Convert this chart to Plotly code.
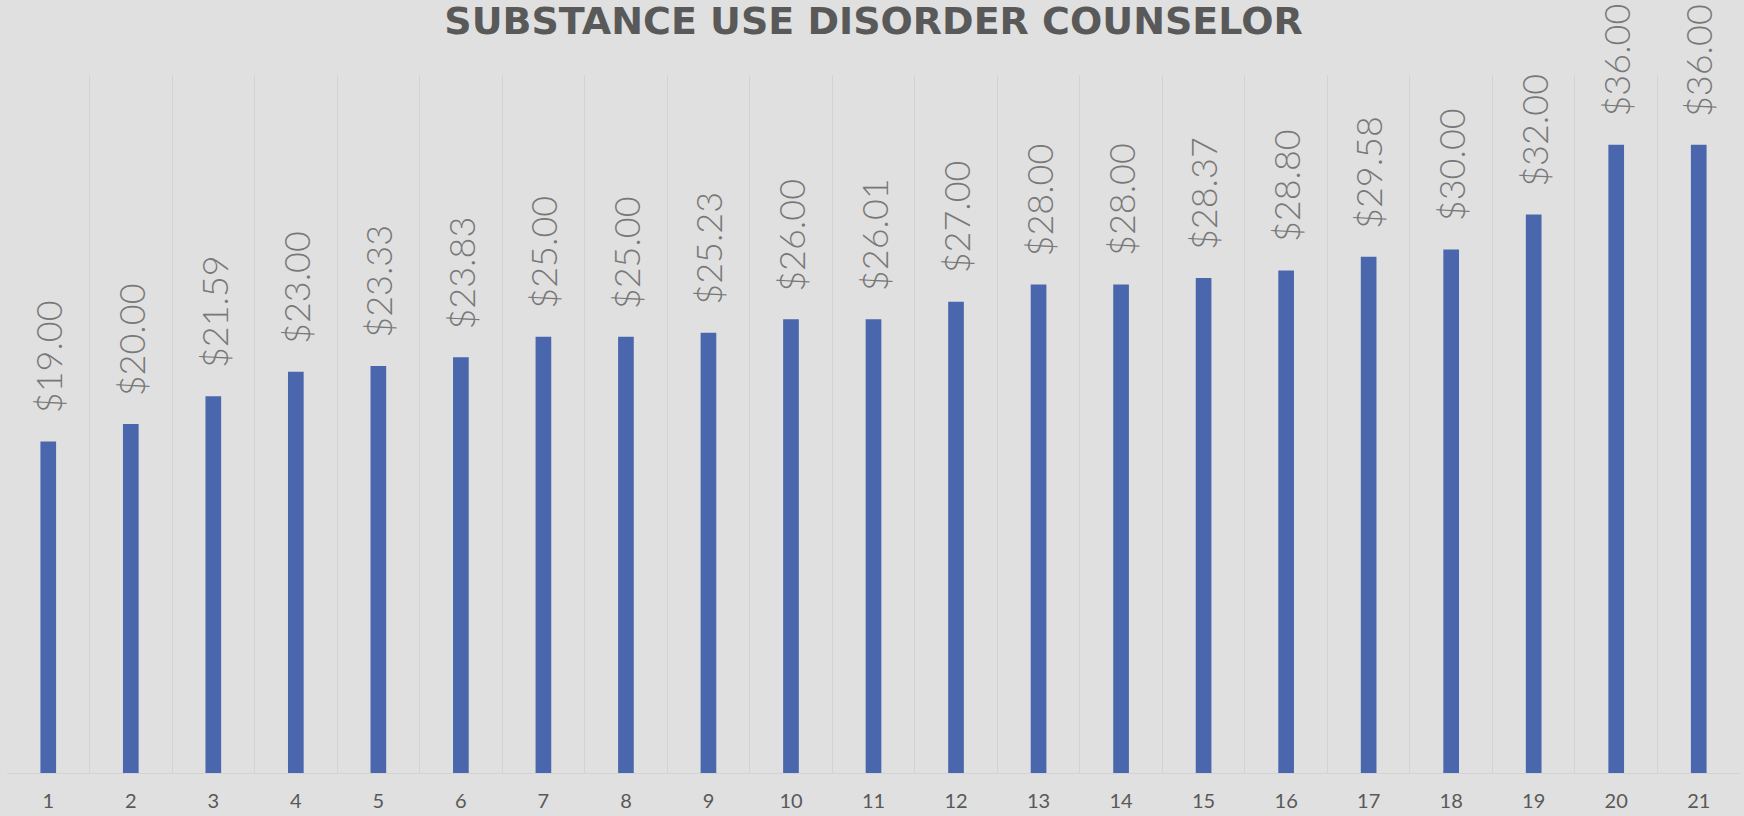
import plotly.graph_objects as go

categories = [str(i) for i in range(1, 22)]
wages = [19.00, 20.00, 21.59, 23.00, 23.33, 23.83, 25.00, 25.00, 25.23, 26.00,
         26.01, 27.00, 28.00, 28.00, 28.37, 28.80, 29.58, 30.00, 32.00, 36.00, 36.00]
labels = ["${:.2f}".format(v) for v in wages]
title_text = "SUBSTANCE USE DISORDER COUNSELOR"

BG = "#e0e0e0"

fig = go.Figure()
fig.add_trace(go.Bar(
    x=categories, y=wages,
    marker=dict(color="#4a67ad", line=dict(width=0)),
    width=0.19,
    hoverinfo="skip",
))

for idx, (v, t) in enumerate(zip(wages, labels)):
    fig.add_annotation(
        x=idx, y=v, text=t, showarrow=False, textangle=-90,
        xanchor="center", yanchor="bottom", yshift=26,
        font=dict(family="Lato", size=36, color="#787878", weight=300),
    )

fig.update_layout(
    width=1744, height=816,
    paper_bgcolor=BG, plot_bgcolor=BG,
    margin=dict(l=7, r=4, t=75, b=41),
    showlegend=False,
    title=dict(
        text="<b>" + title_text + "</b>",
        x=0.5, xanchor="center", xref="paper",
        y=0.975, yanchor="middle", yref="container",
        font=dict(family="DejaVu Sans", size=38, color="#595959"),
    ),
    xaxis=dict(
        type="category", tickson="boundaries",
        showgrid=True, gridcolor="#d3d3d3", gridwidth=1,
        showline=True, linecolor="#d3d3d3", linewidth=1,
        ticks="", ticklabelstandoff=10,
        tickfont=dict(family="Lato", size=20, color="#595959"),
    ),
    yaxis=dict(
        range=[0, 40], showgrid=False, zeroline=False,
        showticklabels=False, ticks="",
    ),
)

fig.write_html(
    "out.html",
    config={"displayModeBar": False},
    post_script="document.body.style.margin='0';document.body.style.overflow='hidden';",
)
